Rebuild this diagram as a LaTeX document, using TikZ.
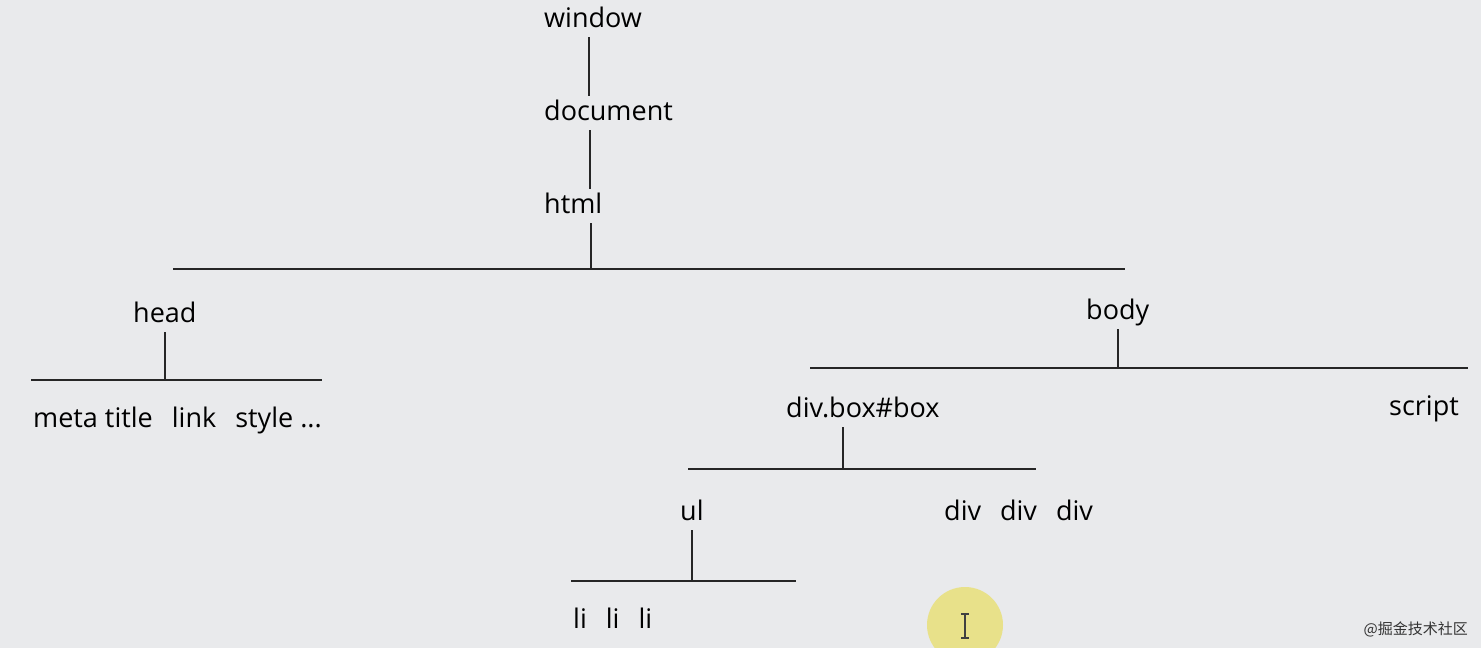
\documentclass[tikz,border=0pt]{standalone}
\usepackage{fontspec}
\setmainfont{Open Sans}
\newfontfamily\cjk{Noto Sans CJK SC}
\usetikzlibrary{positioning}
\definecolor{slidegray}{HTML}{E9EAEC}
\definecolor{inkgray}{HTML}{262626}
\definecolor{cursoryellow}{HTML}{E8E18A}
\newcommand{\gap}{\hspace{19pt}}
\tikzstyle{tag}=[anchor=base west, inner xsep=0pt, inner ysep=4pt, text height=20pt, text depth=6pt, font=\fontsize{27}{32}\selectfont, text=black]
\tikzstyle{stem}=[line width=2pt, draw=inkgray]
\tikzstyle{bus}=[line width=2pt, draw=inkgray]
\tikzstyle{ibeam}=[line width=1.6pt, draw=black!75]

\begin{document}
\begin{tikzpicture}[x=1pt, y=-1pt]
		\fill[slidegray](0,0) rectangle (1481,648);
		\useasboundingbox (0,0) rectangle (1481,648);
		
		% root chain
		\node(window)[tag] at (544,27){window};
		\node(document)[tag, below=93pt of window.base west, anchor=base west]{document};
		\node(html)[tag, below=93pt of document.base west, anchor=base west]{html};
		\coordinate(htmlL) at (173,269);
		\coordinate(htmlR) at (1125,269);
		
		% head branch
		\node(head)[tag] at (133,322){head};
		\coordinate(headL) at (31,380);
		\coordinate(headR) at (322,380);
		\node(headkids)[tag] at (33,427){meta title\gap link\gap style ...};
		
		% body branch
		\node(body)[tag] at (1086,319){body};
		\coordinate(bodyL) at (810,368);
		\coordinate(bodyR) at (1468,368);
		\node(divbox)[tag] at (786,417){div.box\#box};
		\node(script)[tag, right=603pt of divbox.base west, anchor=base west, yshift=2pt]{script};
		\coordinate(divL) at (688,469);
		\coordinate(divR) at (1036,469);
		\node(ul)[tag] at (680,520){ul};
		\node(divs)[tag, right=264pt of ul.base west, anchor=base west]{div\gap div\gap div};
		\coordinate(ulL) at (571,581);
		\coordinate(ulR) at (796,581);
		\node(lis)[tag] at (573,628){li\gap li\gap li};
		
		\draw[stem]([xshift=45pt]window.south west)--([xshift=45pt]document.north west);
		\draw[stem]([xshift=46pt]document.south west)--([xshift=46pt]html.north west);
		\draw[stem]([xshift=47pt]html.south west)--([xshift=47pt]html.south west |- htmlL);
		\draw[bus](htmlL)--(htmlR);
		\draw[stem](head.south)--(head.south |- headL);
		\draw[bus](headL)--(headR);
		\draw[stem](body.south)--(body.south |- bodyL);
		\draw[bus](bodyL)--(bodyR);
		\draw[stem]([xshift=57pt]divbox.south west)--([xshift=57pt]divbox.south west |- divL);
		\draw[bus](divL)--(divR);
		\draw[stem](ul.south)--(ul.south |- ulL);
		\draw[bus](ulL)--(ulR);
		
		% pointer highlight
		\node(pointer)[circle, fill=cursoryellow, minimum size=76pt, inner sep=0pt] at (965,625){};
		\draw[ibeam]([yshift=-13pt]pointer.center)--([yshift=11pt]pointer.center);
		\draw[ibeam]([xshift=-4pt, yshift=-13pt]pointer.center)--([xshift=4pt, yshift=-13pt]pointer.center);
		\draw[ibeam]([xshift=-4pt, yshift=11pt]pointer.center)--([xshift=4pt, yshift=11pt]pointer.center);
		
		\node(mark)[anchor=base east, inner sep=0pt, font=\cjk\fontsize{15}{18}\selectfont, text=black!80] at (1468,634){@掘金技术社区};
	\end{tikzpicture}
\end{document}
